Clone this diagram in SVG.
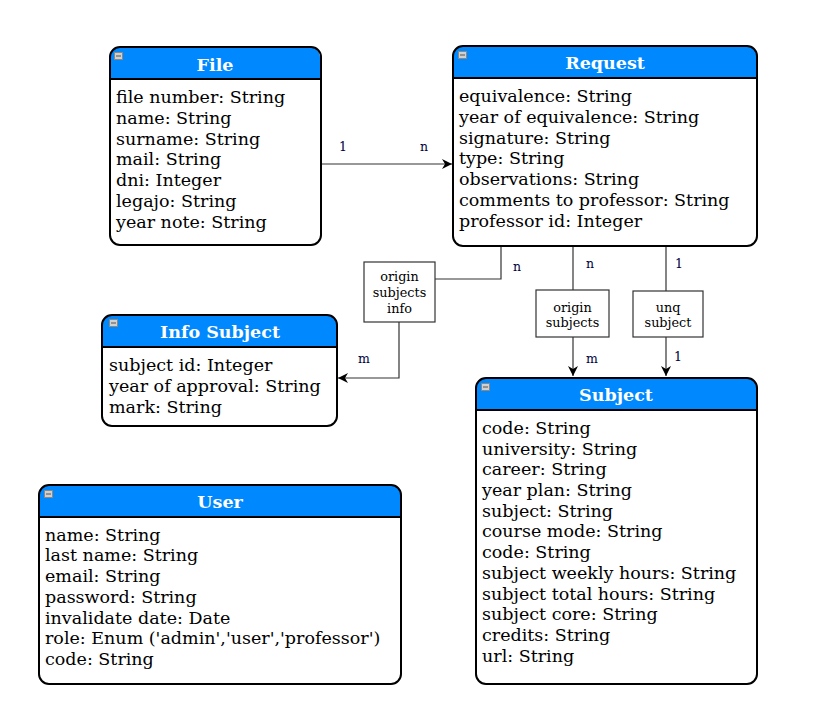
<svg xmlns="http://www.w3.org/2000/svg" width="815" height="723" viewBox="0 0 815 723">
<defs>
<style>
.hdr{fill:#0088ff}
.hl{stroke:#000;stroke-width:2}
.title{font-family:"DejaVu Serif",serif;font-weight:bold;font-size:17.5px;fill:#fff;text-anchor:middle}
.attr{font-family:"DejaVu Serif",serif;font-size:17.5px;fill:#000}
.icon{fill:#d0d0d0;stroke:#888;stroke-width:1}
.icl{stroke:#555;stroke-width:1}
.edge{stroke:#333;stroke-width:1.2;fill:none}
.lbl{font-family:"DejaVu Serif",serif;font-size:12.5px;fill:#000040}
.ebox{fill:#fff;stroke:#333;stroke-width:1.2}
.etxt{font-family:"DejaVu Serif",serif;font-size:12.8px;fill:#000;text-anchor:middle}
.frame{fill:none;stroke:#000;stroke-width:2}
</style>
<marker id="arr" viewBox="0 0 10 10" refX="10" refY="5" markerWidth="10" markerHeight="10" markerUnits="userSpaceOnUse" orient="auto">
<path d="M0,0 L10,5 L0,10 L3,5 Z" fill="#000"/>
</marker>
</defs>

<g id="connectors">
<path class="edge" d="M321,164 L452,164" marker-end="url(#arr)"/>
<text class="lbl" x="339" y="151">1</text>
<text class="lbl" x="420" y="151">n</text>

<path class="edge" d="M501,246 L501,279 L435,279"/>
<path class="edge" d="M399,322 L399,378 L338,378" marker-end="url(#arr)"/>
<rect class="ebox" x="364" y="262" width="71" height="60"/>
<text class="etxt" x="399.5" y="281">origin</text>
<text class="etxt" x="399.5" y="297">subjects</text>
<text class="etxt" x="399.5" y="313">info</text>
<text class="lbl" x="513" y="271">n</text>
<text class="lbl" x="358" y="363">m</text>

<path class="edge" d="M573,246 L573,290"/>
<path class="edge" d="M573,337 L573,376" marker-end="url(#arr)"/>
<rect class="ebox" x="536" y="290" width="73" height="47"/>
<text class="etxt" x="572.5" y="312">origin</text>
<text class="etxt" x="572.5" y="327">subjects</text>
<text class="lbl" x="586" y="268">n</text>
<text class="lbl" x="586" y="363">m</text>

<path class="edge" d="M666,246 L666,291"/>
<path class="edge" d="M666,337 L666,376" marker-end="url(#arr)"/>
<rect class="ebox" x="633" y="291" width="70" height="46"/>
<text class="etxt" x="668" y="312">unq</text>
<text class="etxt" x="668" y="327">subject</text>
<text class="lbl" x="675" y="268">1</text>
<text class="lbl" x="674" y="361">1</text>
</g>

<g id="File">
<rect class="hdr" x="110" y="47" width="210" height="32" rx="10"/>
<rect class="hdr" x="110" y="65" width="210" height="14"/>
<rect x="111" y="80" width="209" height="164" fill="#fff"/>
<rect class="frame" x="110" y="47" width="211" height="198" rx="10"/>
<line class="hl" x1="110" y1="79" x2="321" y2="79"/>
<rect class="icon" x="114.5" y="52.5" width="8" height="7"/><line class="icl" x1="116" y1="56" x2="121" y2="56"/>
<text class="title" x="215" y="71">File</text>
<text class="attr" x="116" y="103">file number: String</text>
<text class="attr" x="116" y="124">name: String</text>
<text class="attr" x="116" y="145">surname: String</text>
<text class="attr" x="116" y="165">mail: String</text>
<text class="attr" x="116" y="186">dni: Integer</text>
<text class="attr" x="116" y="207">legajo: String</text>
<text class="attr" x="116" y="228">year note: String</text>
</g>

<g id="Request">
<rect class="hdr" x="453" y="46" width="304" height="32" rx="10"/>
<rect class="hdr" x="453" y="64" width="304" height="14"/>
<rect x="454" y="79" width="302" height="166" fill="#fff"/>
<rect class="frame" x="453" y="46" width="304" height="200" rx="10"/>
<line class="hl" x1="453" y1="78" x2="757" y2="78"/>
<rect class="icon" x="458.5" y="51.5" width="8" height="7"/><line class="icl" x1="460" y1="55" x2="465" y2="55"/>
<text class="title" x="605" y="69">Request</text>
<text class="attr" x="459" y="102">equivalence: String</text>
<text class="attr" x="459" y="123">year of equivalence: String</text>
<text class="attr" x="459" y="144">signature: String</text>
<text class="attr" x="459" y="164">type: String</text>
<text class="attr" x="459" y="185">observations: String</text>
<text class="attr" x="459" y="206">comments to professor: String</text>
<text class="attr" x="459" y="227">professor id: Integer</text>
</g>

<g id="InfoSubject">
<rect class="hdr" x="102" y="315" width="235" height="32" rx="10"/>
<rect class="hdr" x="102" y="333" width="235" height="14"/>
<rect x="103" y="348" width="233" height="77" fill="#fff"/>
<rect class="frame" x="102" y="315" width="235" height="111" rx="10"/>
<line class="hl" x1="102" y1="347" x2="337" y2="347"/>
<rect class="icon" x="109.5" y="319.5" width="8" height="7"/><line class="icl" x1="111" y1="323" x2="116" y2="323"/>
<text class="title" x="220" y="338">Info Subject</text>
<text class="attr" x="109" y="371">subject id: Integer</text>
<text class="attr" x="109" y="392">year of approval: String</text>
<text class="attr" x="109" y="413">mark: String</text>
</g>

<g id="Subject">
<rect class="hdr" x="476" y="378" width="281" height="32" rx="10"/>
<rect class="hdr" x="476" y="396" width="281" height="14"/>
<rect x="477" y="411" width="279" height="272" fill="#fff"/>
<rect class="frame" x="476" y="378" width="281" height="306" rx="10"/>
<line class="hl" x1="476" y1="410" x2="757" y2="410"/>
<rect class="icon" x="481.5" y="383.5" width="8" height="7"/><line class="icl" x1="483" y1="387" x2="488" y2="387"/>
<text class="title" x="616" y="401">Subject</text>
<text class="attr" x="482" y="434">code: String</text>
<text class="attr" x="482" y="455">university: String</text>
<text class="attr" x="482" y="475">career: String</text>
<text class="attr" x="482" y="496">year plan: String</text>
<text class="attr" x="482" y="517">subject: String</text>
<text class="attr" x="482" y="537">course mode: String</text>
<text class="attr" x="482" y="558">code: String</text>
<text class="attr" x="482" y="579">subject weekly hours: String</text>
<text class="attr" x="482" y="600">subject total hours: String</text>
<text class="attr" x="482" y="620">subject core: String</text>
<text class="attr" x="482" y="641">credits: String</text>
<text class="attr" x="482" y="662">url: String</text>
</g>

<g id="User">
<rect class="hdr" x="39" y="485" width="362" height="32" rx="10"/>
<rect class="hdr" x="39" y="503" width="362" height="14"/>
<rect x="40" y="518" width="360" height="165" fill="#fff"/>
<rect class="frame" x="39" y="485" width="362" height="199" rx="10"/>
<line class="hl" x1="39" y1="517" x2="401" y2="517"/>
<rect class="icon" x="44.5" y="490.5" width="8" height="7"/><line class="icl" x1="46" y1="494" x2="51" y2="494"/>
<text class="title" x="220" y="508">User</text>
<text class="attr" x="45" y="541">name: String</text>
<text class="attr" x="45" y="561">last name: String</text>
<text class="attr" x="45" y="582">email: String</text>
<text class="attr" x="45" y="603">password: String</text>
<text class="attr" x="45" y="624">invalidate date: Date</text>
<text class="attr" x="45" y="644">role: Enum ('admin','user','professor')</text>
<text class="attr" x="45" y="665">code: String</text>
</g>
</svg>
